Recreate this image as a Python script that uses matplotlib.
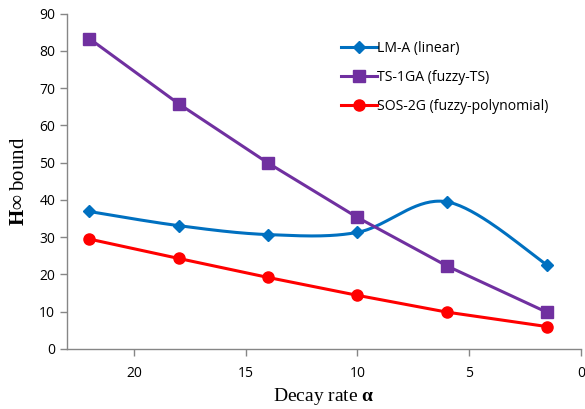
import numpy as np
import matplotlib
matplotlib.use("Agg")
import matplotlib.pyplot as plt
from matplotlib.lines import Line2D

decay = [22, 18, 14, 10, 6, 1.5]
lm_a = [36.9, 33.1, 30.7, 31.3, 39.5, 22.5]
ts_1ga = [83.3, 65.8, 49.9, 35.3, 22.3, 9.8]
sos_2g = [29.5, 24.3, 19.2, 14.4, 9.9, 6.0]

x_ticks = [20, 15, 10, 5, 0]
y_ticks = [0, 10, 20, 30, 40, 50, 60, 70, 80, 90]

c_lm = "#0070C0"
c_ts = "#7030A0"
c_sos = "#FF0000"

plt.rcParams["mathtext.fontset"] = "custom"
plt.rcParams["mathtext.rm"] = "Liberation Serif"
plt.rcParams["mathtext.bf"] = "Liberation Serif:bold"
plt.rcParams["mathtext.it"] = "Liberation Serif:italic"


def smooth_curve(xs, ys, n=40):
    """Bezier-smoothed path through the points (spreadsheet-style smoothing)."""
    p = np.column_stack([xs, ys]).astype(float)
    out = []
    for i in range(len(p) - 1):
        p0 = p[i - 1] if i > 0 else p[i]
        p1, p2 = p[i], p[i + 1]
        p3 = p[i + 2] if i + 2 < len(p) else p[i + 1]
        c1 = p1 + (p2 - p0) / 6.0
        c2 = p2 - (p3 - p1) / 6.0
        t = np.linspace(0, 1, n)[:, None]
        seg = ((1 - t) ** 3) * p1 + 3 * ((1 - t) ** 2) * t * c1 + 3 * (1 - t) * t ** 2 * c2 + t ** 3 * p2
        out.append(seg if i == 0 else seg[1:])
    s = np.vstack(out)
    return s[:, 0], s[:, 1]


fig = plt.figure(figsize=(5.85, 4.09), dpi=100)
ax = fig.add_axes([0.1145, 0.1467, 0.8785, 0.82])

sx, sy = smooth_curve(decay, lm_a)
ax.plot(sx, sy, color=c_lm, lw=2.2, zorder=3)
ax.plot(decay, lm_a, ls="none", marker="D", ms=6, color=c_lm, zorder=4)
ax.plot(decay, ts_1ga, color=c_ts, lw=2.2, marker="s", ms=8, zorder=3)
ax.plot(decay, sos_2g, color=c_sos, lw=2.2, marker="o", ms=8, zorder=3)

ax.set_xlim(23, 0)
ax.set_ylim(0, 90)
ax.set_xticks(x_ticks)
ax.set_yticks(y_ticks)

for s in ["top", "right"]:
    ax.spines[s].set_visible(False)
for s in ["left", "bottom"]:
    ax.spines[s].set_color("#868686")
    ax.spines[s].set_linewidth(1.0)
ax.tick_params(colors="#868686", length=5, width=1.0, direction="out")
for lab in ax.get_xticklabels() + ax.get_yticklabels():
    lab.set_fontfamily("Open Sans")
    lab.set_fontsize(10)
    lab.set_color("#000000")
ax.tick_params(axis="x", pad=7)

ax.set_xlabel(r"Decay rate $\mathbf{α}$", family="Liberation Serif", fontsize=14, labelpad=4)
ax.set_ylabel(r"$\mathbf{H∞}\;\mathrm{bound}$", family="Liberation Serif", fontsize=15, labelpad=7)

handles = [
    Line2D([], [], color=c_lm, lw=2.2, marker="D", ms=6),
    Line2D([], [], color=c_ts, lw=2.2, marker="s", ms=8),
    Line2D([], [], color=c_sos, lw=2.2, marker="o", ms=8),
]
labels = ["LM-A (linear)", "TS-1GA (fuzzy-TS)", "SOS-2G (fuzzy-polynomial)"]
ax.legend(handles, labels, loc="upper left", bbox_to_anchor=(0.508, 0.957), frameon=False,
          prop={"family": "Open Sans", "size": 10.1}, handlelength=2.6, handletextpad=0.0,
          labelspacing=1.02)

fig.savefig("out.png", dpi=100)
